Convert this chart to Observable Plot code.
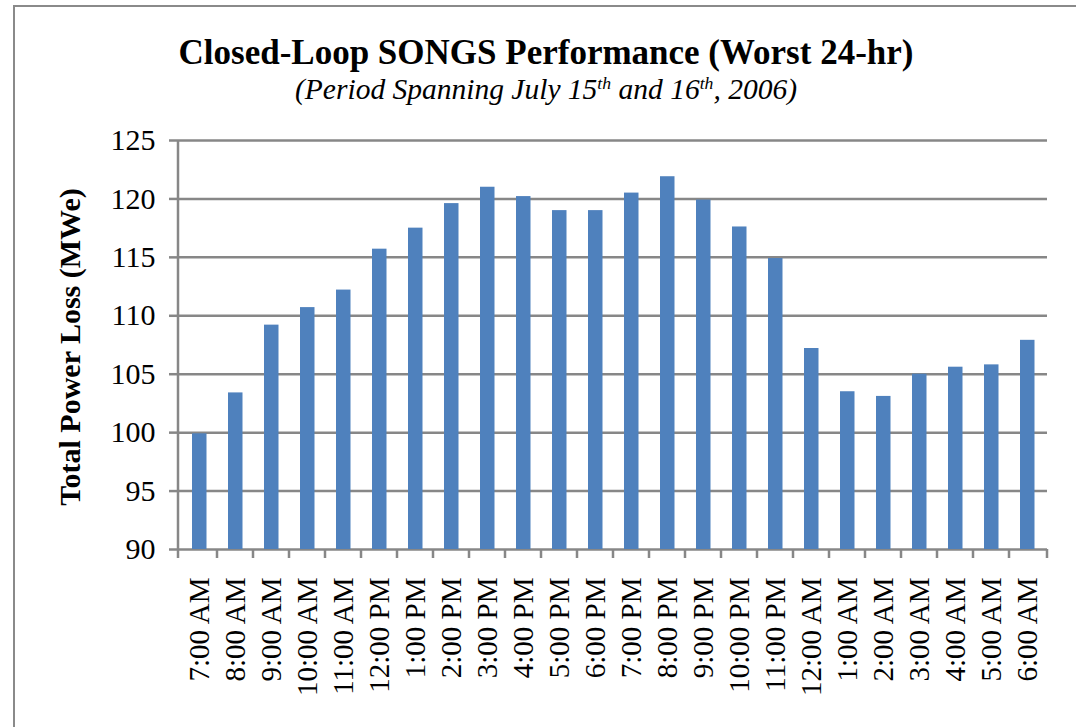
<!DOCTYPE html>
<html>
<head>
<meta charset="utf-8">
<script src="https://cdn.jsdelivr.net/npm/d3@7"></script>
<script src="https://cdn.jsdelivr.net/npm/@observablehq/plot@0.6"></script>
<style>
  html, body { margin: 0; padding: 0; background: #fff; }
  #root { position: relative; width: 1076px; height: 727px; overflow: hidden; font-family: "Liberation Serif", "Times New Roman", serif; }
  #frame { position: absolute; left: 13px; top: 5px; width: 1100px; height: 800px; border: 2.5px solid #8a8a8a; box-sizing: border-box; }
  #title { position: absolute; left: 14px; width: 1064px; top: 38px; height: 30px; text-align: center; font-weight: bold; font-size: 35px; line-height: 30px; color: #000; }
  #subtitle { position: absolute; left: 14px; width: 1064px; top: 75px; text-align: center; font-style: italic; font-size: 29.5px; line-height: 1; color: #000; }
  #subtitle sup { font-size: 0.6em; vertical-align: 0; position: relative; top: -0.55em; line-height: 0; }
  #chart { position: absolute; left: 0; top: 110px; }
</style>
</head>
<body>
<div id="root">
  <div id="frame"></div>
  <div id="title">Closed-Loop SONGS Performance (Worst 24-hr)</div>
  <div id="subtitle">(Period Spanning July 15<sup>th</sup> and 16<sup>th</sup>, 2006)</div>
  <div id="chart"></div>
</div>
<script>
const hours = ["7:00 AM","8:00 AM","9:00 AM","10:00 AM","11:00 AM","12:00 PM","1:00 PM","2:00 PM","3:00 PM","4:00 PM","5:00 PM","6:00 PM","7:00 PM","8:00 PM","9:00 PM","10:00 PM","11:00 PM","12:00 AM","1:00 AM","2:00 AM","3:00 AM","4:00 AM","5:00 AM","6:00 AM"];
const powerLoss = [99.9,103.4,109.2,110.7,112.2,115.7,117.5,119.6,121.0,120.2,119.0,119.0,120.5,121.9,119.9,117.6,114.9,107.2,103.5,103.1,105.0,105.6,105.8,107.9];
const yTicks = [90,95,100,105,110,115,120,125];
const yLabel = "Total Power Loss (MWe)";

const data = hours.map((h, i) => ({hour: h, value: powerLoss[i]}));
const yMin = yTicks[0];
const gray = "#878787";
const serif = "Liberation Serif, Times New Roman, serif";

const W = 1076, H = 617, mL = 178, mR = 29, mT = 30, mB = 178;

// category-boundary ticks and left axis line (Excel style)
function axisLines(index, scales, values, dims) {
  const g = d3.create("svg:g").attr("stroke", gray).attr("stroke-width", 2.5);
  const x0 = dims.marginLeft, x1 = dims.width - dims.marginRight;
  const y0 = dims.marginTop, y1 = dims.height - dims.marginBottom;
  g.append("line").attr("x1", x0).attr("x2", x0).attr("y1", y0).attr("y2", y1 + 1);
  for (let i = 0; i <= hours.length; i++) {
    const x = i === 0 ? x0 : (i === hours.length ? x1 : scales.x(hours[i]));
    g.append("line").attr("x1", x).attr("x2", x).attr("y1", y1).attr("y2", y1 + 9);
  }
  return g.node();
}

const chart = Plot.plot({
  width: W, height: H,
  marginLeft: mL, marginRight: mR, marginTop: mT, marginBottom: mB,
  style: {fontFamily: serif, background: "transparent"},
  x: {type: "band", domain: hours, padding: 0, label: null},
  y: {domain: [yTicks[0], yTicks[yTicks.length - 1]], label: null},
  marks: [
    Plot.ruleY(yTicks, {y: d => d, stroke: gray, strokeWidth: 2.5}),
    Plot.barY(data, {x: "hour", y1: yMin, y2: "value", fill: "#4F81BD", insetLeft: 11, insetRight: 10.5}),
    axisLines,
    Plot.axisY({ticks: yTicks, tickSize: 9, tickPadding: 14, stroke: gray, strokeWidth: 2.5, fill: "#000", fontSize: 30, fontFamily: serif, label: null}),
    Plot.axisX({tickSize: 0, tickPadding: 28, tickRotate: -90, fill: "#000", fontSize: 29, fontFamily: serif, label: null}),
    Plot.text([yLabel], {frameAnchor: "left", dx: -108, dy: 2, rotate: -90, textAnchor: "middle", fontSize: 30, fontWeight: "bold", fontFamily: serif, fill: "#000"})
  ]
});
document.getElementById("chart").appendChild(chart);
</script>
</body>
</html>
